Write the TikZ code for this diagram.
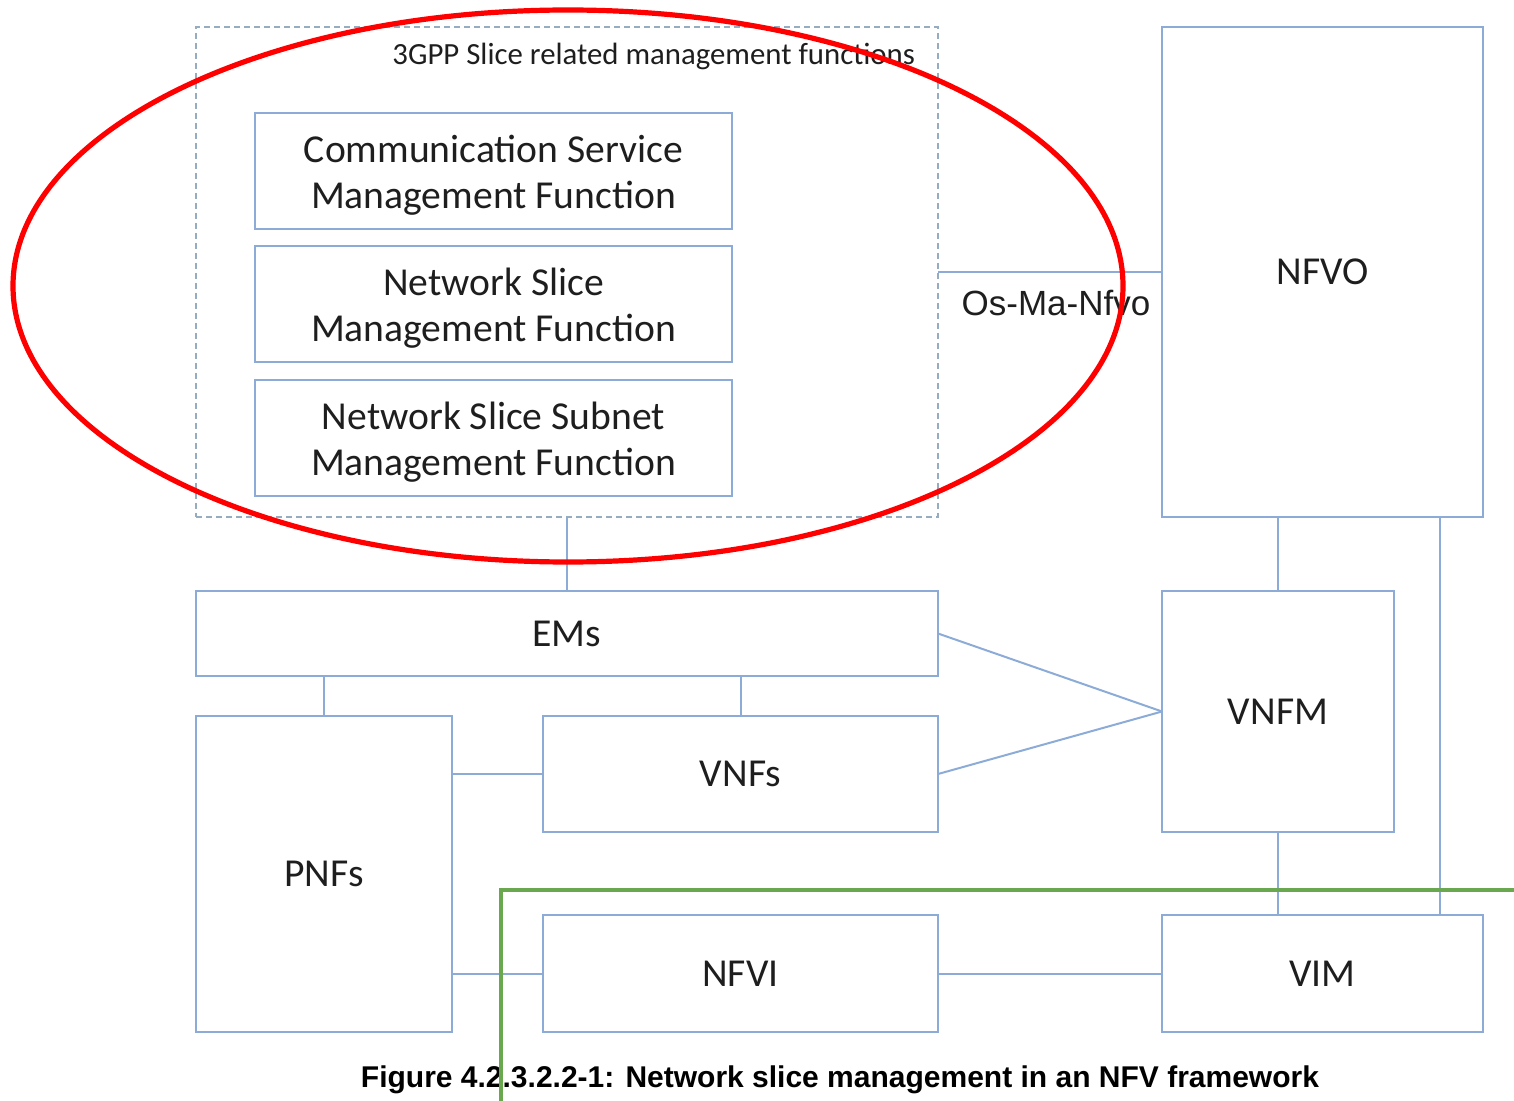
\documentclass[tikz,border=0pt]{standalone}
\usepackage{fontspec}
\setmainfont{Carlito}
\newfontfamily\arialfont{Liberation Sans}
\definecolor{boxblue}{RGB}{140,172,215}
\definecolor{dashgray}{RGB}{150,172,192}
\definecolor{markgreen}{RGB}{106,168,79}
\definecolor{txt}{RGB}{30,30,30}
\tikzset{
  boxfont/.style={font=\fontsize{19.8}{23}\selectfont, text=txt},
  box/.style={draw=boxblue, line width=1pt, inner sep=0pt, outer sep=0pt, align=center, boxfont},
  fnbox/.style={box, minimum width=238.5pt, minimum height=58pt,
    label={[boxfont, align=center, yshift=-2.2pt]center:{#1}}},
  link/.style={draw=boxblue, line width=1pt},
  group/.style={draw=dashgray, line width=0.8pt, dash pattern=on 3pt off 2pt,
    inner sep=0pt, outer sep=0pt},
}
\begin{document}
\begin{tikzpicture}[x=0.5pt,y=-0.5pt]
\useasboundingbox (0,0) rectangle (1514,1101);

% group of 3GPP slice management functions
\node[group, minimum width=371pt, minimum height=245pt] (slice) at (567,272) {};
\node[anchor=east, font=\fontsize{15.4}{18}\selectfont, text=txt] (slicetitle) at (922,56) {3GPP Slice related management functions};
\node[fnbox={Communication Service\\Management Function}] (csmf) at (493.5,171) {};
\node[fnbox={Network Slice\\Management Function}] (nsmf) at (493.5,304) {};
\node[fnbox={Network Slice Subnet\\Management Function}] (nssmf) at (493.5,438) {};

% NFV MANO blocks
\node[box, minimum width=160.5pt, minimum height=245pt] (nfvo) at (1322.5,272) {NFVO};
\node[box, minimum width=116pt, minimum height=120.5pt] (vnfm) at (1278,711.5) {VNFM};
\node[box, minimum width=160.5pt, minimum height=58.5pt] (vim) at (1322.5,973.5) {VIM};

% network function blocks
\node[box, minimum width=371pt, minimum height=42.5pt] (ems) at (567,633.5) {EMs};
\node[box, minimum width=128pt, minimum height=158pt] (pnfs) at (324,874) {PNFs};
\node[box, minimum width=197.5pt, minimum height=58pt] (vnfs) at (740.5,774) {VNFs};
\node[box, minimum width=197.5pt, minimum height=58.5pt] (nfvi) at (740.5,973.5) {NFVI};

% connectors
\draw[link] (slice.east) -- (nfvo.west);
\node[font=\arialfont\fontsize{17.5}{20}\selectfont, text=txt] (osma) at (1056,303) {Os-Ma-Nfvo};
\draw[link] (slice.south) -- (ems.north);
\draw[link] (pnfs.north) -- (pnfs.north |- ems.south);
\draw[link] (vnfs.north) -- (vnfs.north |- ems.south);
\draw[link] (vnfs.west) -- (vnfs.west -| pnfs.east);
\draw[link] (ems.east) -- (vnfm.west);
\draw[link] (vnfs.east) -- (vnfm.west);
\draw[link] (vnfm.north) -- (vnfm.north |- nfvo.south);
\coordinate (vimtap) at (1440,915);
\draw[link] (vimtap |- nfvo.south) -- (vimtap);
\draw[link] (vnfm.south) -- (vnfm.south |- vim.north);
\draw[link] (nfvi.west) -- (nfvi.west -| pnfs.east);
\draw[link] (nfvi.east) -- (vim.west);

% caption
\node[font=\arialfont\bfseries\fontsize{15}{17}\selectfont, text=black] (caption) at (840,1080)
  {Figure 4.2.3.2.2-1: Network slice management in an NFV framework};

% highlight marks
\draw[red, line width=2.6pt] (568,286) ellipse [x radius=555, y radius=276];
\coordinate (g1) at (501,1101);
\coordinate (g2) at (501,890);
\coordinate (g3) at (1514,890);
\draw[markgreen, line width=2pt] (g1) -- (g2) -- (g3);
\end{tikzpicture}
\end{document}
